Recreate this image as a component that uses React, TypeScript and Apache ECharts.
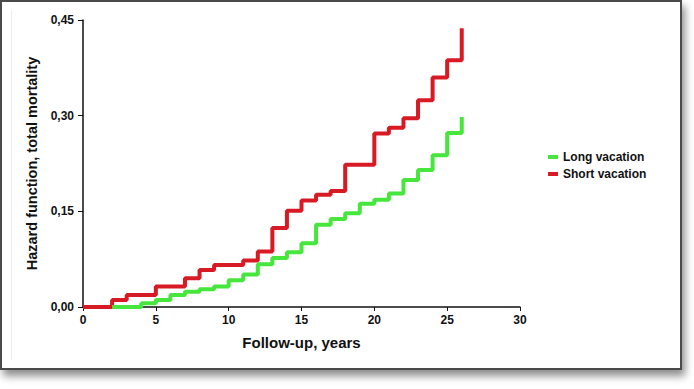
import React, { useEffect, useRef } from "react";
import * as echarts from "echarts";

const shortTimes = [0, 2, 3, 5, 7, 8, 9, 11, 12, 13, 14, 15, 16, 17, 18, 20, 21, 22, 23, 24, 25, 26];
const shortValues = [0, 0.011, 0.019, 0.032, 0.045, 0.058, 0.066, 0.073, 0.087, 0.124, 0.151, 0.167, 0.176, 0.182, 0.223, 0.272, 0.281, 0.296, 0.324, 0.36, 0.387, 0.437];

const longTimes = [2, 4, 5, 6, 7, 8, 9, 10, 11, 12, 13, 14, 15, 16, 17, 18, 19, 20, 21, 22, 23, 24, 25, 26];
const longValues = [0, 0.006, 0.011, 0.019, 0.024, 0.028, 0.032, 0.042, 0.051, 0.067, 0.077, 0.086, 0.1, 0.129, 0.138, 0.147, 0.162, 0.168, 0.178, 0.199, 0.215, 0.238, 0.273, 0.298];

const seriesNames = ["Long vacation", "Short vacation"];
const xTicks = { min: 0, max: 30, interval: 5 };
const yTicks = { min: 0, max: 0.45, interval: 0.15 };

const FONT = "'Liberation Sans', Arial, sans-serif";

export default function App() {
  const ref = useRef<HTMLDivElement>(null);

  useEffect(() => {
    document.body.style.margin = "0";
    if (!ref.current) return;
    const chart = echarts.init(ref.current, null, { renderer: "svg" });
    const zip = (t: number[], v: number[]) => t.map((x, i) => [x, v[i]]);
    chart.setOption({
      animation: false,
      backgroundColor: "transparent",
      textStyle: { fontFamily: FONT },
      grid: { left: 83, right: 174, top: 20, bottom: 82, containLabel: false },
      legend: {
        orient: "vertical",
        left: 543,
        top: 145,
        data: seriesNames,
        icon: "rect",
        itemWidth: 10,
        itemHeight: 4,
        itemGap: 3,
        textStyle: { fontFamily: FONT, fontWeight: "bold", fontSize: 12, color: "#111", lineHeight: 14 },
      },
      xAxis: {
        type: "value",
        min: xTicks.min,
        max: xTicks.max,
        interval: xTicks.interval,
        name: "Follow-up, years",
        nameLocation: "middle",
        nameGap: 28,
        nameTextStyle: { fontFamily: FONT, fontWeight: "bold", fontSize: 15, color: "#111" },
        axisLine: { lineStyle: { color: "#111", width: 1.5 } },
        axisTick: { show: true, length: 4, lineStyle: { color: "#111", width: 1 } },
        axisLabel: { fontFamily: FONT, fontWeight: "bold", fontSize: 12, color: "#111", margin: 7 },
        splitLine: { show: false },
      },
      yAxis: {
        type: "value",
        min: yTicks.min,
        max: yTicks.max,
        interval: yTicks.interval,
        name: "Hazard function, total mortality",
        nameLocation: "middle",
        nameGap: 43,
        nameRotate: 90,
        nameTextStyle: { fontFamily: FONT, fontWeight: "bold", fontSize: 14.5, color: "#111" },
        axisLine: { show: true, lineStyle: { color: "#111", width: 1.5 } },
        axisTick: { show: true, length: 5, lineStyle: { color: "#111", width: 1 } },
        axisLabel: {
          fontFamily: FONT,
          fontWeight: "bold",
          fontSize: 12,
          color: "#111",
          margin: 9,
          formatter: (v: number) => v.toFixed(2).replace(".", ","),
        },
        splitLine: { show: false },
      },
      series: [
        {
          name: seriesNames[1],
          type: "line",
          step: "end",
          showSymbol: false,
          data: zip(shortTimes, shortValues),
          lineStyle: { color: "#d71a24", width: 4 },
          itemStyle: { color: "#d71a24" },
        },
        {
          name: seriesNames[0],
          type: "line",
          step: "end",
          showSymbol: false,
          data: zip(longTimes, longValues),
          lineStyle: { color: "#46e63c", width: 4 },
          itemStyle: { color: "#46e63c" },
        },
      ],
    });
    return () => chart.dispose();
  }, []);

  return (
    <div style={{ position: "relative", width: 694, height: 389, background: "#fff", overflow: "hidden" }}>
      <div
        style={{
          position: "absolute",
          left: 0,
          top: 0,
          width: 682,
          height: 370,
          boxSizing: "border-box",
          border: "2px solid #4a4a4a",
          background: "#fff",
          boxShadow: "3px 6px 8px rgba(0,0,0,0.45)",
        }}
      />
      <div style={{ position: "absolute", left: 11, top: 10, width: 1, height: 350, background: "#ececec" }} />
      <div ref={ref} style={{ position: "absolute", left: 0, top: 0, width: 694, height: 389 }} />
    </div>
  );
}
